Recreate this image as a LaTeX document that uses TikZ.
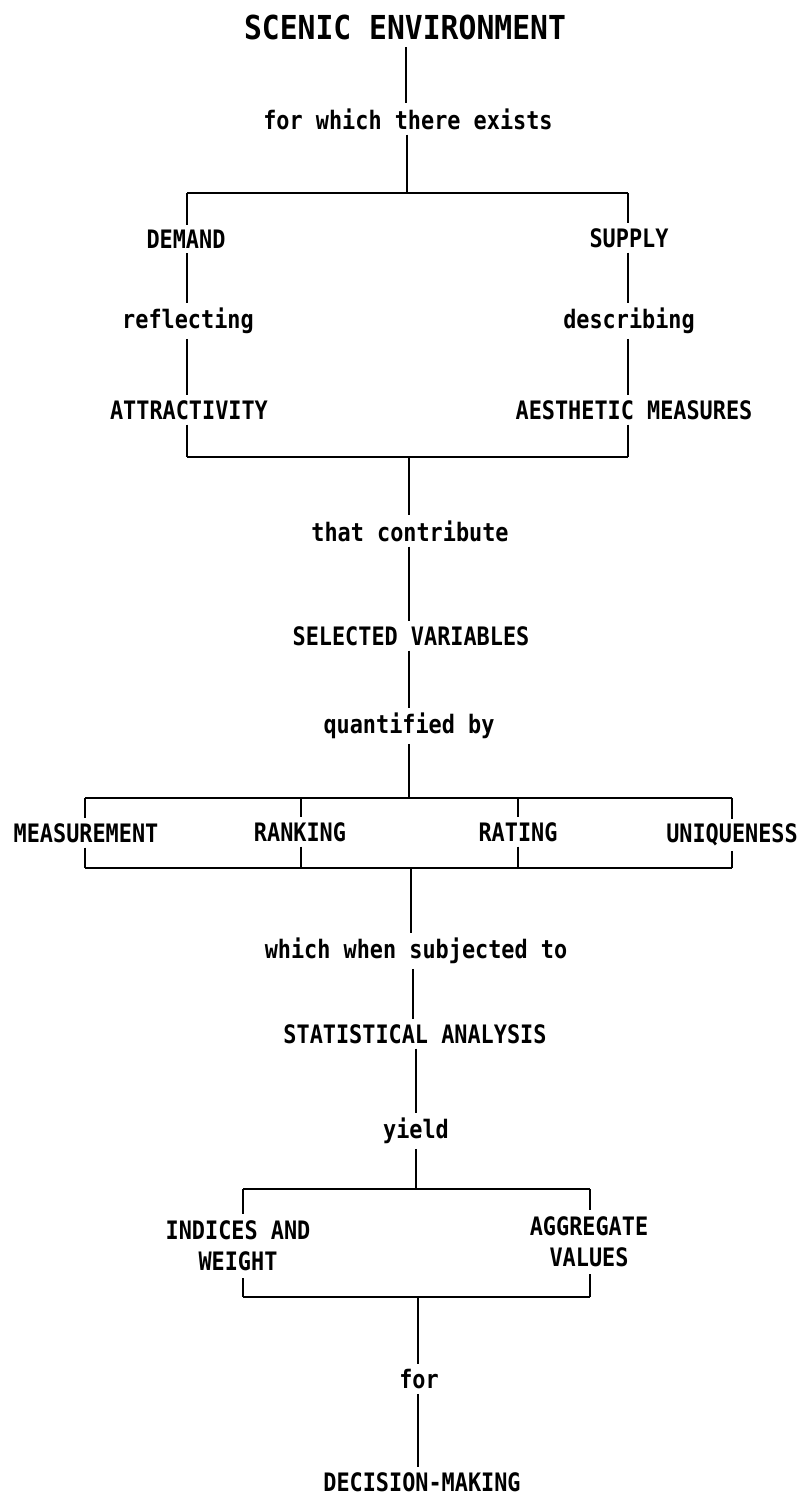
\documentclass[tikz,border=0pt]{standalone}
\usepackage{fontspec}
\newfontfamily\labfont{DejaVu Sans Mono}[FakeStretch=0.86]
\newfontfamily\titlefont{DejaVu Sans Mono}[FakeStretch=0.9]
\begin{document}
\begin{tikzpicture}[x=1pt,y=-1pt,
  lab/.style={font=\labfont\bfseries\fontsize{25.4}{31}\selectfont, inner sep=0pt, outer sep=5pt},
  lab2/.style={lab, align=center, outer sep=7pt},
  ttl/.style={font=\titlefont\bfseries\fontsize{33}{36}\selectfont, inner sep=0pt, outer sep=8pt},
  ln/.style={line width=2pt, black}]
\useasboundingbox (0,0) rectangle (810,1495);

% ---- labels ----
\node[ttl] (title) at (405,27) {SCENIC ENVIRONMENT};
\node[lab] (for) at (408,119) {for which there exists};
\node[lab] (demand) at (186,239) {DEMAND};
\node[lab] (refl) at (188,321) {reflecting};
\node[lab] (attr) at (189,410) {ATTRACTIVITY};
\node[lab] (supply) at (629,238) {SUPPLY};
\node[lab] (descr) at (629,321) {describing};
\node[lab] (aesth) at (634,410) {AESTHETIC MEASURES};
\node[lab] (contrib) at (410,531) {that contribute};
\node[lab] (selected) at (411,636) {SELECTED VARIABLES};
\node[lab] (quant) at (409,726) {quantified by};
\node[lab] (meas) at (86,833) {MEASUREMENT};
\node[lab] (rank) at (300,832) {RANKING};
\node[lab] (rate) at (518,832) {RATING};
\node[lab] (uniq) at (732,835) {UNIQUENESS};
\node[lab] (which) at (416,951) {which when subjected to};
\node[lab] (stat) at (415,1034) {STATISTICAL ANALYSIS};
\node[lab] (yield) at (416,1131) {yield};
\node[lab2] (ind) at (238,1246) {INDICES AND\\WEIGHT};
\node[lab2] (aggr) at (589,1242) {AGGREGATE\\VALUES};
\node[lab] (forb) at (419,1379) {for};
\node[lab] (dec) at (422,1482) {DECISION-MAKING};

% ---- junction coordinates ----
\coordinate (j1) at (407,193);
\coordinate (b1tl) at (187,193);
\coordinate (b1tr) at (628,193);
\coordinate (b1bl) at (187,457);
\coordinate (b1br) at (628,457);
\coordinate (j2) at (409,457);

\coordinate (j3) at (409,798);
\coordinate (b2tl) at (85,798);
\coordinate (b2tr) at (732,798);
\coordinate (b2bl) at (85,868);
\coordinate (b2br) at (732,868);
\coordinate (d1t) at (301,798);
\coordinate (d1b) at (301,868);
\coordinate (d2t) at (518,798);
\coordinate (d2b) at (518,868);
\coordinate (j4) at (411,868);

\coordinate (j5) at (416,1189);
\coordinate (b3tl) at (243,1189);
\coordinate (b3tr) at (590,1189);
\coordinate (b3bl) at (243,1297);
\coordinate (b3br) at (590,1297);
\coordinate (j6) at (418,1297);

% ---- spine (vertical segments) ----
\draw[ln] (406,0 |- title.south) -- (406,0 |- for.north);
\draw[ln] (j1 |- for.south) -- (j1);
\draw[ln] (j2) -- (j2 |- contrib.north);
\draw[ln] (j2 |- contrib.south) -- (j2 |- selected.north);
\draw[ln] (j2 |- selected.south) -- (j2 |- quant.north);
\draw[ln] (j3 |- quant.south) -- (j3);
\draw[ln] (j4) -- (j4 |- which.north);
\draw[ln] (413,0 |- which.south) -- (413,0 |- stat.north);
\draw[ln] (j5 |- stat.south) -- (j5 |- yield.north);
\draw[ln] (j5 |- yield.south) -- (j5);
\draw[ln] (j6) -- (j6 |- forb.north);
\draw[ln] (j6 |- forb.south) -- (j6 |- dec.north);

% ---- box 1 ----
\draw[ln] (b1tl) -- (b1tr);
\draw[ln] (b1bl) -- (b1br);
\draw[ln] (b1tl) -- (b1tl |- demand.north);
\draw[ln] (b1tl |- demand.south) -- (b1tl |- refl.north);
\draw[ln] (b1tl |- refl.south) -- (b1tl |- attr.north);
\draw[ln] (b1tl |- attr.south) -- (b1bl);
\draw[ln] (b1tr) -- (b1tr |- supply.north);
\draw[ln] (b1tr |- supply.south) -- (b1tr |- descr.north);
\draw[ln] (b1tr |- descr.south) -- (b1tr |- aesth.north);
\draw[ln] (b1tr |- aesth.south) -- (b1br);

% ---- box 2 ----
\draw[ln] (b2tl) -- (b2tr);
\draw[ln] (b2bl) -- (b2br);
\draw[ln] (b2tl) -- (b2tl |- meas.north);
\draw[ln] (b2tl |- meas.south) -- (b2bl);
\draw[ln] (d1t) -- (d1t |- rank.north);
\draw[ln] (d1t |- rank.south) -- (d1b);
\draw[ln] (d2t) -- (d2t |- rate.north);
\draw[ln] (d2t |- rate.south) -- (d2b);
\draw[ln] (b2tr) -- (b2tr |- uniq.north);
\draw[ln] (b2tr |- uniq.south) -- (b2br);

% ---- box 3 ----
\draw[ln] (b3tl) -- (b3tr);
\draw[ln] (b3bl) -- (b3br);
\draw[ln] (b3tl) -- (b3tl |- ind.north);
\draw[ln] (b3tl |- ind.south) -- (b3bl);
\draw[ln] (b3tr) -- (b3tr |- aggr.north);
\draw[ln] (b3tr |- aggr.south) -- (b3br);
\end{tikzpicture}
\end{document}
